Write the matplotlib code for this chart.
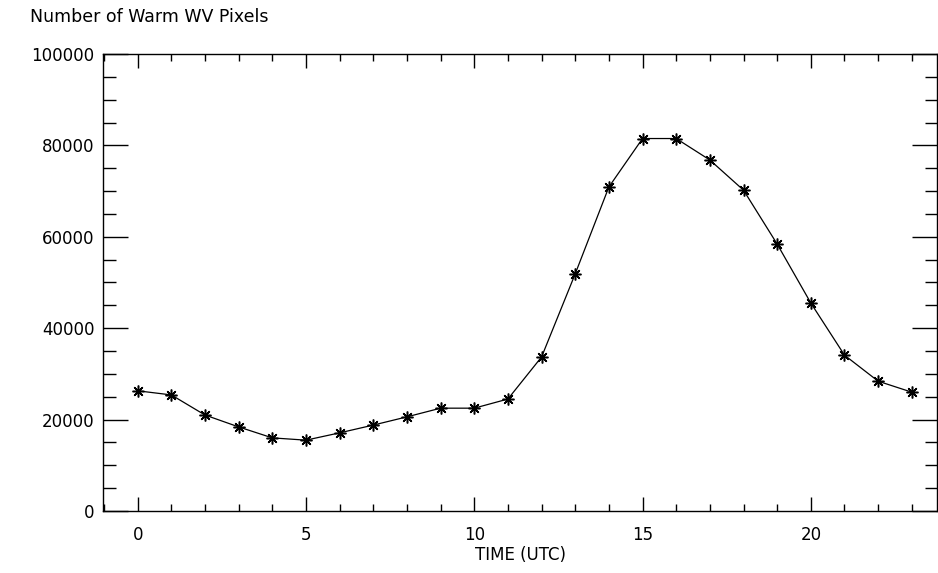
import matplotlib
matplotlib.use("Agg")
import matplotlib.pyplot as plt
from matplotlib.ticker import MultipleLocator

# Data
hours = list(range(24))
pixels = [26300, 25400, 21000, 18400, 16000, 15500, 17100, 18800, 20600, 22500,
          22500, 24500, 33700, 51900, 70900, 81500, 81500, 76800, 70200, 58400,
          45500, 34100, 28400, 26000]

title = "Number of Warm WV Pixels"
xlabel = "TIME (UTC)"

# Plot
fig = plt.figure(figsize=(9.38, 5.73), dpi=100)
ax = fig.add_axes([0.1098, 0.1082, 0.8892, 0.7976])

ax.plot(hours, pixels, color="black", linewidth=0.9,
        marker=(8, 2, 0), markersize=8.5, markeredgewidth=1.1)

ax.set_xlim(-1.03, 23.75)
ax.set_ylim(0, 100000)
ax.xaxis.set_major_locator(MultipleLocator(5))
ax.xaxis.set_minor_locator(MultipleLocator(1))
ax.yaxis.set_major_locator(MultipleLocator(20000))
ax.yaxis.set_minor_locator(MultipleLocator(5000))

ax.tick_params(axis="both", which="both", direction="in", top=True, right=True,
               labelsize=12, colors="black", width=1)
ax.tick_params(axis="x", which="major", length=10, pad=11)
ax.tick_params(axis="x", which="minor", length=5)
ax.tick_params(axis="y", which="major", length=18, pad=6)
ax.tick_params(axis="y", which="minor", length=9)

for s in ax.spines.values():
    s.set_linewidth(1)

ax.set_xlabel(xlabel, fontsize=12, labelpad=1)
fig.text(30 / 938, 1 - 17 / 573, title, fontsize=12.5, ha="left", va="center")

plt.savefig("out.png", dpi=100)
